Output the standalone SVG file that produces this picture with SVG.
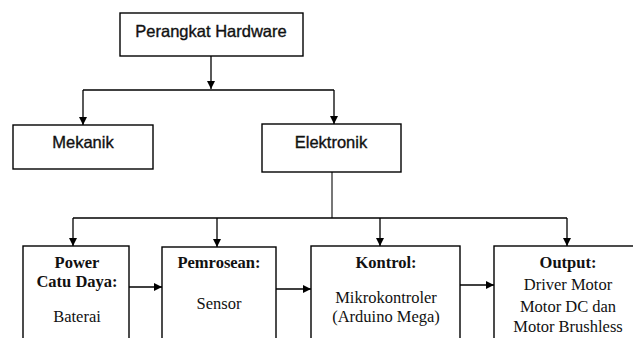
<svg xmlns="http://www.w3.org/2000/svg" width="633" height="338" viewBox="0 0 633 338">
<defs>
<marker id="ah" markerWidth="8" markerHeight="8" refX="8" refY="4" orient="auto" markerUnits="userSpaceOnUse">
<path d="M0,0 L8,4 L0,8 Z" fill="#000"/>
</marker>
<style>
.box{fill:#fff;stroke:#000;stroke-width:1.4}
.sans{font-family:"Liberation Sans",Arial,sans-serif;font-size:16.5px;fill:#111;stroke:#111;stroke-width:0.35;text-anchor:middle}
.serif{font-family:"Liberation Serif","Times New Roman",serif;font-size:16.5px;fill:#111;text-anchor:middle}
.b{font-weight:bold}
.ln{fill:none;stroke:#000;stroke-width:1.3}
</style>
</defs>
<rect width="633" height="338" fill="#fff"/>
<g id="connectors">
<path class="ln" d="M211,56 V89" marker-end="url(#ah)"/>
<path class="ln" d="M83,90 H334"/>
<path class="ln" d="M83,90 V125" marker-end="url(#ah)"/>
<path class="ln" d="M334,90 V124" marker-end="url(#ah)"/>
<path d="M332,172 V218" fill="none" stroke="#777" stroke-width="2"/>
<path class="ln" d="M73,218 H567"/>
<path class="ln" d="M73,218 V246" marker-end="url(#ah)"/>
<path class="ln" d="M217,218 V247" marker-end="url(#ah)"/>
<path class="ln" d="M380,218 V246" marker-end="url(#ah)"/>
<path class="ln" d="M567,218 V246" marker-end="url(#ah)"/>
<path class="ln" d="M129,287 H162" marker-end="url(#ah)"/>
<path class="ln" d="M276,289 H311" marker-end="url(#ah)"/>
<path class="ln" d="M460,285 H494" marker-end="url(#ah)"/>
</g>
<g id="perangkat-hardware">
<rect class="box" x="120" y="13" width="183" height="43"/>
<text class="sans" x="211" y="37">Perangkat Hardware</text>
</g>
<g id="mekanik">
<rect class="box" x="13" y="125" width="140" height="44"/>
<text class="sans" x="83" y="148">Mekanik</text>
</g>
<g id="elektronik">
<rect class="box" x="262" y="124" width="139" height="48"/>
<text class="sans" x="331" y="148">Elektronik</text>
</g>
<g id="power">
<rect class="box" x="23" y="246" width="106" height="110"/>
<text class="serif b" x="77" y="268">Power</text>
<text class="serif b" x="77" y="287">Catu Daya:</text>
<text class="serif" x="77" y="322">Baterai</text>
</g>
<g id="pemrosean">
<rect class="box" x="162" y="247" width="114" height="110"/>
<text class="serif b" x="219" y="268">Pemrosean:</text>
<text class="serif" x="219" y="309">Sensor</text>
</g>
<g id="kontrol">
<rect class="box" x="311" y="246" width="149" height="110"/>
<text class="serif b" x="386" y="268">Kontrol:</text>
<text class="serif" x="386" y="303">Mikrokontroler</text>
<text class="serif" x="386" y="322">(Arduino Mega)</text>
</g>
<g id="output">
<rect class="box" x="494" y="246" width="150" height="110"/>
<text class="serif b" x="568" y="268">Output:</text>
<text class="serif" x="568" y="290">Driver Motor</text>
<text class="serif" x="568" y="312">Motor DC dan</text>
<text class="serif" x="568" y="332">Motor Brushless</text>
</g>
</svg>
